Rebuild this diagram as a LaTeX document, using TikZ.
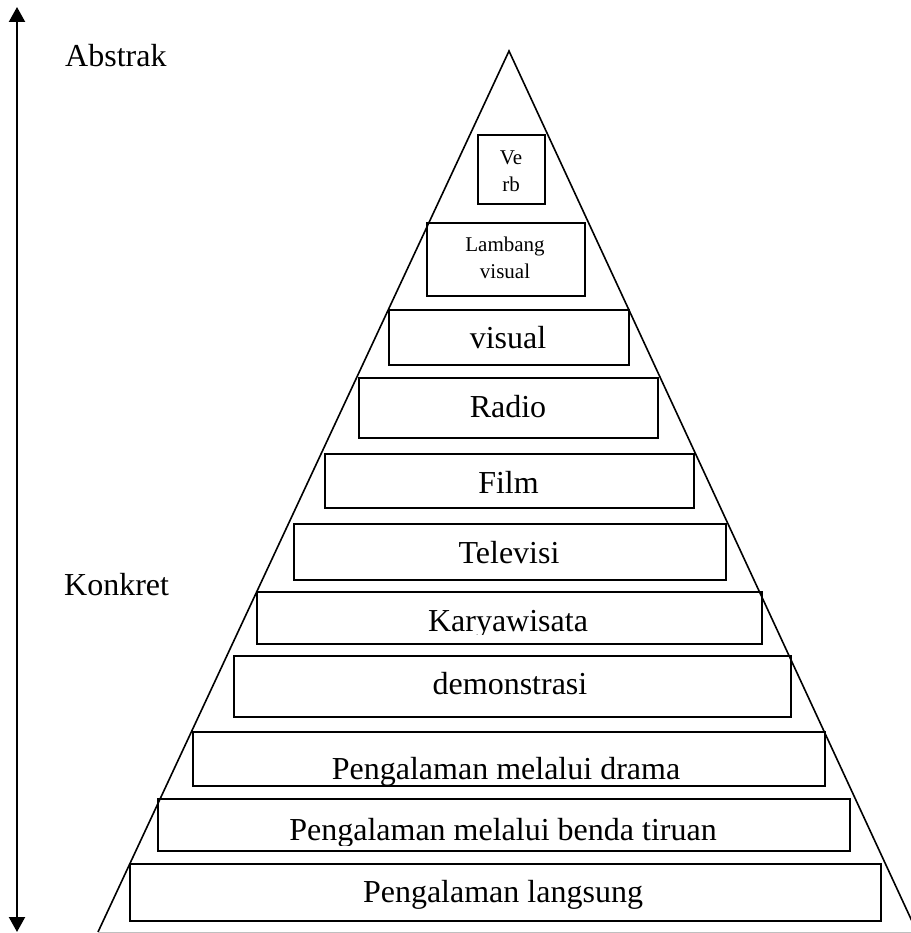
\documentclass[tikz,border=0pt]{standalone}
\usepackage{fontspec}
\setmainfont{Liberation Serif}
\usetikzlibrary{arrows.meta}

\begin{document}
\begin{tikzpicture}[x=1pt, y=-1pt,
    tier/.style={draw, line width=1.8pt, inner sep=0pt, anchor=north west},
    txt/.style={anchor=base, inner sep=0pt, font=\fontsize{32}{38}\selectfont},
    smalltxt/.style={anchor=base, inner sep=0pt, align=center, font=\fontsize{21}{27}\selectfont},
    side/.style={anchor=base west, inner sep=0pt, font=\fontsize{32}{38}\selectfont}]
  \useasboundingbox (0,0) rectangle (910,933);

  % pyramid outline
  \coordinate (apex)  at (509,51);
  \coordinate (baseL) at (98,932);
  \coordinate (baseR) at (917,932);
  \draw[line width=1.6pt] (baseL) -- (apex) -- (baseR);
  \draw[line width=1pt, black!25] (baseL) -- (baseR);

  % left scale
  \coordinate (arrtop) at (17,7);
  \coordinate (arrbot) at (17,932);
  \draw[line width=2.2pt, {Triangle[length=15pt,width=16pt]}-{Triangle[length=15pt,width=16pt]}] (arrtop) -- (arrbot);
  \node[side] (abstrak) at (65,67)  {Abstrak};
  \node[side] (konkret) at (64,595) {Konkret};

  % tiers, top to bottom
  \node[tier, minimum width=67pt,  minimum height=69pt] (verb)     at (477,134) {};
  \node[tier, minimum width=158pt, minimum height=73pt] (lambang)  at (426,222) {};
  \node[tier, minimum width=240pt, minimum height=55pt] (visual)   at (388,309) {};
  \node[tier, minimum width=299pt, minimum height=60pt] (radio)    at (358,377) {};
  \node[tier, minimum width=369pt, minimum height=54pt] (film)     at (324,453) {};
  \node[tier, minimum width=432pt, minimum height=56pt] (tv)       at (293,523) {};
  \node[tier, minimum width=505pt, minimum height=52pt] (karya)    at (256,591) {};
  \node[tier, minimum width=557pt, minimum height=61pt] (demo)     at (233,655) {};
  \node[tier, minimum width=632pt, minimum height=54pt] (drama)    at (192,731) {};
  \node[tier, minimum width=692pt, minimum height=52pt] (tiruan)   at (157,798) {};
  \node[tier, minimum width=751pt, minimum height=57pt] (langsung) at (129,863) {};

  % tier texts (base = last line)
  \node[smalltxt] (verbtxt)    at (511,192) {Ve\\rb};
  \node[smalltxt] (lambangtxt) at (505,278) {Lambang\\visual};
  \node[txt] (visualtxt) at (508,348) {visual};
  \node[txt] (radiotxt)  at (508,417) {Radio};
  \node[txt] (filmtxt)   at (508.5,493) {Film};
  \node[txt] (tvtxt)     at (509,563) {Televisi};
  \begin{scope}
    \clip (256,591) rectangle (761,634);
    \node[txt] (karyatxt) at (508,631) {Karyawisata};
  \end{scope}
  \node[txt] (demotxt)   at (510,694) {demonstrasi};
  \begin{scope}
    \clip (192,731) rectangle (824,784);
    \node[txt] (dramatxt) at (506,779) {Pengalaman melalui drama};
  \end{scope}
  \begin{scope}
    \clip (157,798) rectangle (849,845);
    \node[txt] (tiruantxt) at (503,840) {Pengalaman melalui benda tiruan};
  \end{scope}
  \node[txt] (langsungtxt) at (503,902) {Pengalaman langsung};
\end{tikzpicture}
\end{document}
